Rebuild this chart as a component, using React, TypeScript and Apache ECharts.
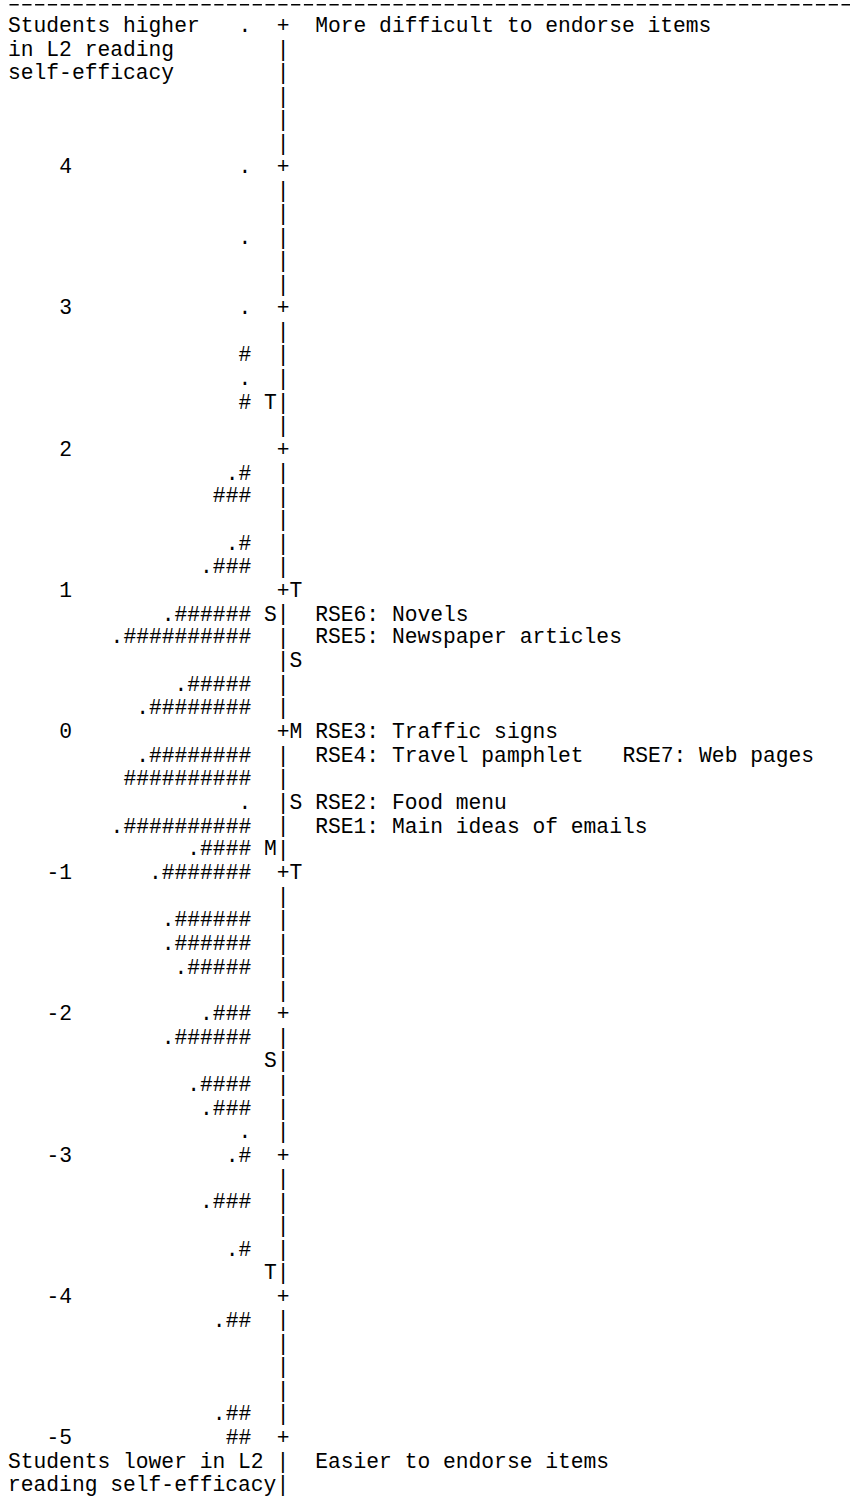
import { useEffect, useRef } from 'react';
import * as echarts from 'echarts';

const personLogits = [5.0, 4.0, 3.5, 3.0, 2.67, 2.5, 2.33, 1.83, 1.67, 1.33, 1.17, 0.83, 0.67, 0.33, 0.17, -0.17, -0.33, -0.5, -0.67, -0.83, -1.0, -1.33, -1.5, -1.67, -2.0, -2.17, -2.5, -2.67, -2.83, -3.0, -3.33, -3.67, -4.17, -4.83, -5.0];
const personHashes = [0, 0, 0, 0, 1, 0, 1, 1, 3, 1, 3, 6, 10, 5, 8, 8, 10, 0, 10, 4, 7, 6, 6, 5, 3, 6, 4, 3, 0, 1, 3, 1, 2, 2, 2];
const personDots = [1, 1, 1, 1, 0, 1, 0, 1, 0, 1, 1, 1, 1, 1, 1, 1, 0, 1, 1, 1, 1, 1, 1, 1, 1, 1, 1, 1, 1, 1, 1, 1, 1, 1, 0];

const personMarkerLogits = [2.33, 0.83, -0.83, -2.33, -3.83];
const personMarkerLabels = ['T', 'S', 'M', 'S', 'T'];
const itemMarkerLogits = [1.0, 0.5, 0.0, -0.5, -1.0];
const itemMarkerLabels = ['T', 'S', 'M', 'S', 'T'];

const itemLabels = ['RSE1: Main ideas of emails', 'RSE2: Food menu', 'RSE3: Traffic signs', 'RSE4: Travel pamphlet', 'RSE5: Newspaper articles', 'RSE6: Novels', 'RSE7: Web pages'];
const itemMeasures = [-0.67, -0.5, 0.0, -0.17, 0.67, 0.83, -0.17];

const axisMin = -5;
const axisMax = 5;
const rowsPerLogit = 6;

const topLeftLines = ['Students higher', 'in L2 reading', 'self-efficacy'];
const topRightLabel = 'More difficult to endorse items';
const bottomLeftLines = ['Students lower in L2 |', 'reading self-efficacy|'];
const bottomRightLabel = 'Easier to endorse items';

// ---- layout constants (character columns) ----
const FONT = '"Liberation Mono", "Courier New", monospace';
const FS = 21.3;
const COL_PERSON_END = 19;
const COL_PMARK = 20;
const COL_AXIS = 21;
const COL_IMARK = 22;
const COL_ITEM = 24;

function textSeries(name: string, points: number[][], texts: string[], align: string) {
  return {
    type: 'custom',
    name,
    coordinateSystem: 'cartesian2d',
    silent: true,
    clip: false,
    data: points,
    renderItem: (params: any, api: any) => {
      const p = api.coord([api.value(0), api.value(1)]);
      return {
        type: 'text',
        x: p[0],
        y: p[1],
        style: {
          text: texts[params.dataIndex],
          fill: '#000',
          fontFamily: FONT,
          fontSize: FS,
          align,
          verticalAlign: 'middle',
        },
      };
    },
  };
}

export default function App() {
  const ref = useRef<HTMLDivElement>(null);
  useEffect(() => {
    if (!ref.current) return;
    const chart = echarts.init(ref.current, null, { renderer: 'svg' });
    const step = 1 / rowsPerLogit;

    // persons
    const personTexts = personLogits.map((_, i) => (personDots[i] ? '.' : '') + '#'.repeat(personHashes[i]));
    const personPts = personLogits.map((v) => [COL_PERSON_END, v]);

    // axis glyphs
    const axisPts: number[][] = [];
    const axisTexts: string[] = [];
    const nRows = (axisMax - axisMin) * rowsPerLogit;
    for (let k = 0; k <= nRows; k++) {
      axisPts.push([COL_AXIS, axisMax - k * step]);
      axisTexts.push(k % rowsPerLogit === 0 ? '+' : '|');
    }

    // items: items sharing a row are placed one after another, 3 spaces apart
    const rowCursor: Record<string, number> = {};
    const itemPts: number[][] = [];
    const itemTexts: string[] = [];
    const sorted = itemLabels.map((_, i) => i).sort((a, b) => (itemLabels[a] < itemLabels[b] ? -1 : 1));
    sorted.forEach((i) => {
      const key = itemMeasures[i].toFixed(2);
      const col = rowCursor[key] ?? COL_ITEM;
      itemPts.push([col, itemMeasures[i]]);
      itemTexts.push(itemLabels[i]);
      rowCursor[key] = col + itemLabels[i].length + 3;
    });

    // frame texts
    const frameLeftPts = [
      ...topLeftLines.map((_, i) => [0, axisMax - i * step]),
      ...bottomLeftLines.map((_, i) => [0, axisMin - (i + 1) * step]),
    ];
    const frameLeftTexts = [...topLeftLines, ...bottomLeftLines];
    const frameRightPts = [
      [COL_ITEM, axisMax],
      [COL_ITEM, axisMin - step],
    ];
    const frameRightTexts = [topRightLabel, bottomRightLabel];

    // dashed rule on top of the map (drawn as a dashed line spanning the columns)
    const ruleSeries = {
      type: 'custom',
      name: 'rule',
      coordinateSystem: 'cartesian2d',
      silent: true,
      clip: false,
      data: [[0, 67, axisMax + step * 0.9]],
      renderItem: (_params: any, api: any) => {
        const a = api.coord([api.value(0), api.value(2)]);
        const b = api.coord([api.value(1), api.value(2)]);
        return {
          type: 'line',
          shape: { x1: a[0] + 1.5, y1: a[1], x2: b[0], y2: b[1] },
          style: { stroke: '#000', lineWidth: 1.6, lineDash: [9.2, 3.6] },
        };
      },
    };

    chart.setOption({
      animation: false,
      backgroundColor: '#fff',
      grid: { left: 8, width: 60 * 12.8, top: 26, bottom: 62, containLabel: false },
      xAxis: { type: 'value', min: 0, max: 60, show: false },
      yAxis: {
        type: 'value',
        min: axisMin,
        max: axisMax,
        interval: 1,
        offset: -64,
        axisLine: { show: false },
        axisTick: { show: false },
        splitLine: { show: false },
        axisLabel: {
          showMaxLabel: false,
          margin: 0,
          color: '#000',
          fontFamily: FONT,
          fontSize: FS,
          align: 'right',
          verticalAlign: 'middle',
        },
      },
      series: [
        ruleSeries,
        textSeries('persons', personPts, personTexts, 'right'),
        textSeries('personMarkers', personMarkerLogits.map((v) => [COL_PMARK, v]), personMarkerLabels, 'left'),
        textSeries('axis', axisPts, axisTexts, 'left'),
        textSeries('itemMarkers', itemMarkerLogits.map((v) => [COL_IMARK, v]), itemMarkerLabels, 'left'),
        textSeries('items', itemPts, itemTexts, 'left'),
        textSeries('frameLeft', frameLeftPts, frameLeftTexts, 'left'),
        textSeries('frameRight', frameRightPts, frameRightTexts, 'left'),
      ],
    });
    return () => chart.dispose();
  }, []);
  return (
    <div
      ref={ref}
      style={{ position: 'absolute', left: 0, top: 0, width: 850, height: 1500, background: '#fff' }}
    />
  );
}
